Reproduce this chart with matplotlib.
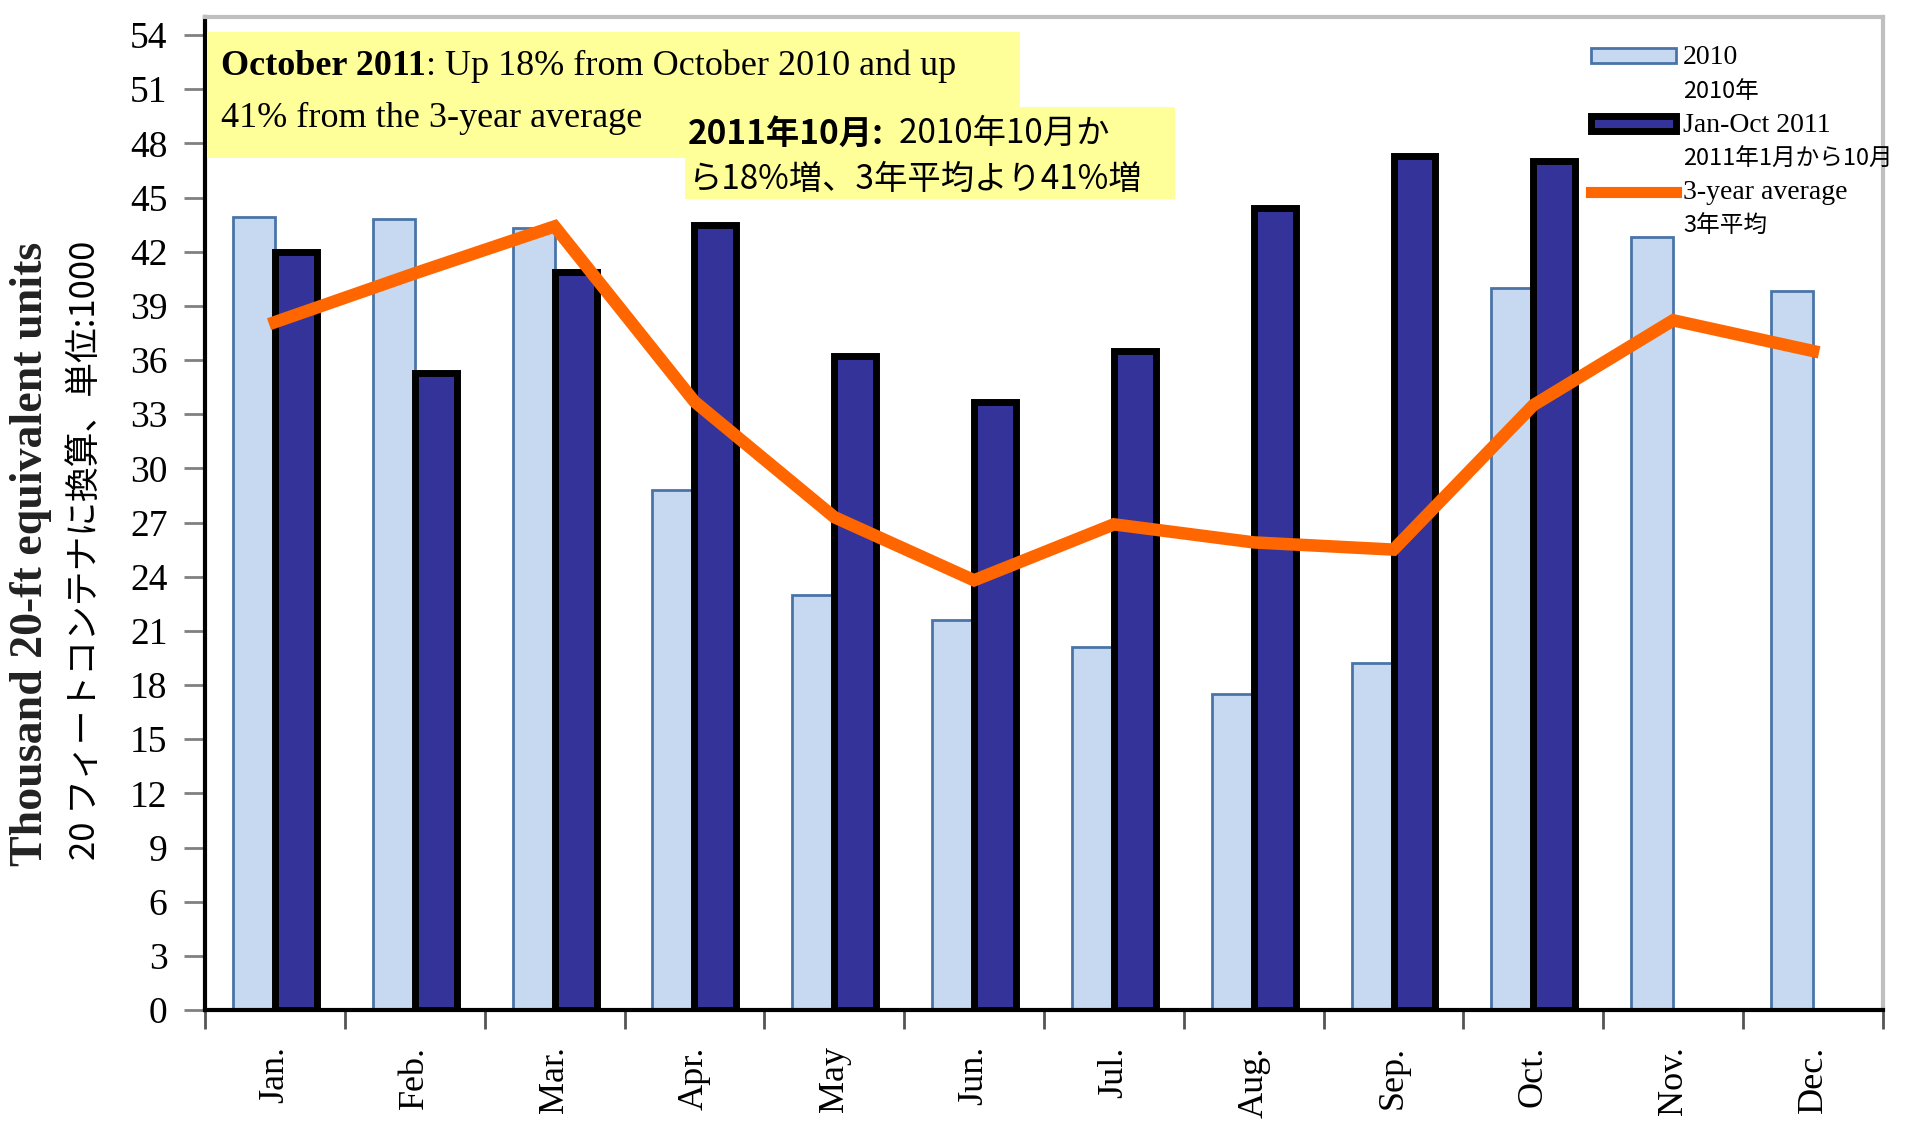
import matplotlib.pyplot as plt
from matplotlib.lines import Line2D
from matplotlib.patches import Patch, Rectangle
import numpy as np

months = ['Jan.', 'Feb.', 'Mar.', 'Apr.', 'May', 'Jun.', 'Jul.', 'Aug.', 'Sep.', 'Oct.', 'Nov.', 'Dec.']
teu_2010 = [43.9, 43.8, 43.3, 28.8, 23.0, 21.6, 20.1, 17.5, 19.2, 40.0, 42.8, 39.8]
teu_2011 = [42.0, 35.3, 40.9, 43.5, 36.2, 33.7, 36.5, 44.4, 47.3, 47.0]
avg_3yr = [38.1, 40.8, 43.4, 33.7, 27.3, 23.8, 26.9, 25.9, 25.5, 33.5, 38.2, 36.5]
yticks = list(range(0, 55, 3))

serif = 'Liberation Serif'
jp = ['Noto Sans CJK JP', 'DejaVu Sans']

fig = plt.figure(figsize=(19.11, 11.24), dpi=100)
ax = fig.add_axes([0.1073, 0.1014, 0.878, 0.8835])

x = np.arange(len(months))
w = 0.3
ax.bar(x - w / 2, teu_2010, width=w, color='#C6D9F1', edgecolor='#4A74A8', linewidth=2, zorder=2)
ax.bar(x[:len(teu_2011)] + w / 2, teu_2011, width=w, color='#333399', edgecolor='black', linewidth=5, zorder=2)
ax.plot(x, avg_3yr, color='#FF6600', linewidth=9, solid_joinstyle='miter', zorder=4)

ax.set_xlim(-0.5, 11.5)
ax.set_ylim(0, 55)
ax.set_yticks(yticks)
ax.set_yticklabels([str(v) for v in yticks], fontfamily=serif, fontsize=27)
ax.tick_params(axis='y', direction='out', length=15, width=2, color='#808080', pad=12)

ax.set_xticks(x)
ax.set_xticklabels(months, rotation=90, fontfamily=serif, fontsize=26)
ax.set_xticks(np.arange(-0.5, 12, 1), minor=True)
ax.tick_params(axis='x', which='major', length=0, pad=26)
ax.tick_params(axis='x', which='minor', direction='out', length=14, width=2, color='#555555')

for s in ['top', 'right']:
    ax.spines[s].set_color('#BFBFBF')
    ax.spines[s].set_linewidth(3)
ax.spines['left'].set_linewidth(3)
ax.spines['bottom'].set_linewidth(3)

fig.text(0.016, 0.507, 'Thousand 20-ft equivalent units', rotation=90, va='center', ha='center',
         fontfamily=serif, fontweight='bold', fontsize=33, color='#222222')
fig.text(0.0447, 0.51, '20 フィートコンテナに換算、単位:1000', rotation=90, va='center', ha='center',
         family=jp, fontsize=25)

# annotation boxes
ax.add_patch(Rectangle((0.001, 0.858), 0.485, 0.127, transform=ax.transAxes,
                       facecolor='#FFFF99', edgecolor='none', zorder=5))
ax.add_patch(Rectangle((0.286, 0.817), 0.292, 0.092, transform=ax.transAxes,
                       facecolor='#FFFF99', edgecolor='none', zorder=5))

t1 = ax.text(0.0095, 0.950, 'October 2011', transform=ax.transAxes, fontfamily=serif,
             fontweight='bold', fontsize=26, va='center', zorder=6)
ax.annotate(': Up 18% from October 2010 and up', xy=(1, 0), xycoords=t1, va='bottom',
            fontfamily=serif, fontsize=26, zorder=6)
ax.text(0.0095, 0.898, '41% from the 3-year average', transform=ax.transAxes, fontfamily=serif,
        fontsize=26, va='center', zorder=6)

t2 = ax.text(0.288, 0.882, '2011年10月:', transform=ax.transAxes, family=jp,
             fontweight='bold', fontsize=24, va='center', zorder=6)
ax.annotate('  2010年10月か', xy=(1, 0), xycoords=t2, va='bottom', family=jp, fontsize=24, zorder=6)
ax.text(0.288, 0.836, 'ら18%増、3年平均より41%増', transform=ax.transAxes, family=jp,
        fontsize=24, va='center', zorder=6)

blank = Line2D([], [], alpha=0)
handles = [Patch(facecolor='#C6D9F1', edgecolor='#4A74A8', linewidth=2), blank,
           Patch(facecolor='#333399', edgecolor='black', linewidth=5), blank,
           Line2D([], [], color='#FF6600', linewidth=8), blank]
labels = ['2010', '2010年', 'Jan-Oct 2011', '2011年1月から10月', '3-year average', '3年平均']
leg = ax.legend(handles, labels, loc='upper left', bbox_to_anchor=(0.826, 0.972), frameon=False,
                fontsize=17, handlelength=3.6, handleheight=0.6, handletextpad=0.3,
                labelspacing=0.42, borderpad=0, borderaxespad=0)
for i, t in enumerate(leg.get_texts()):
    if i % 2 == 0:
        t.set_fontfamily(serif)
        t.set_fontsize(20)
    else:
        t.set_family(jp)
        t.set_fontsize(17)

fig.savefig('out.png', dpi=100)
